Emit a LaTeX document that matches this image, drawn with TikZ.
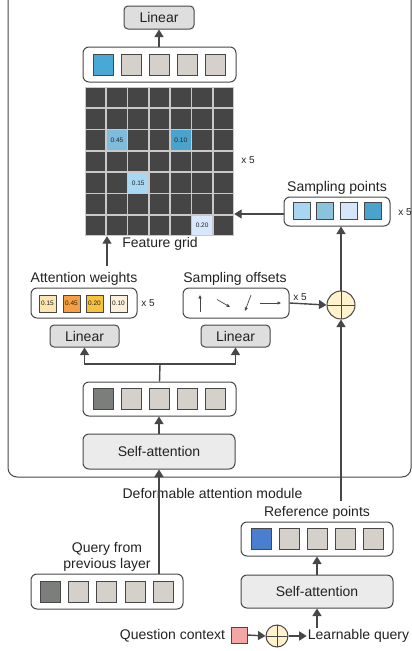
\documentclass[tikz,border=0pt]{standalone}
\usepackage{fontspec}
\setmainfont{Liberation Sans}
\usetikzlibrary{arrows.meta}
\definecolor{ln}{HTML}{474747}
\definecolor{txt}{HTML}{222222}
\definecolor{beige}{HTML}{D6D0CA}
\definecolor{dcell}{HTML}{7B7E7B}
\definecolor{bluea}{HTML}{4AA9D4}
\definecolor{blueb}{HTML}{4A7FCF}
\definecolor{linfill}{HTML}{DEDEDE}
\definecolor{safill}{HTML}{EBEBEB}
\definecolor{gridbg}{HTML}{C9C9C9}
\definecolor{gridcell}{HTML}{454545}
\definecolor{plusfill}{HTML}{FFF2CC}
\definecolor{qred}{HTML}{F2A7A5}
\definecolor{gA}{HTML}{7FBCDC}
\definecolor{gB}{HTML}{4AA3CD}
\definecolor{gC}{HTML}{A9D9F2}
\definecolor{gD}{HTML}{D8E8FB}
\definecolor{sA}{HTML}{A8D6F1}
\definecolor{sB}{HTML}{8AC3DE}
\definecolor{sC}{HTML}{D5E5FA}
\definecolor{sD}{HTML}{4AA3CC}
\definecolor{wA}{HTML}{FCE6B0}
\definecolor{wB}{HTML}{F4A041}
\definecolor{wC}{HTML}{F9C23C}
\definecolor{wD}{HTML}{FDF0DC}
\tikzset{
  lbl/.style={font=\fontsize{14}{16}\selectfont, text=txt, inner sep=1pt, align=center},
  small/.style={font=\fontsize{10}{12}\selectfont, text=txt, inner sep=0pt},
  tiny/.style={font=\fontsize{6.5}{7}\selectfont, text=txt, inner sep=0pt},
  cont/.style={draw=ln, line width=1pt, rounded corners=6pt, fill=white, inner sep=0pt},
  cell/.style={draw=ln, line width=0.8pt, fill=beige, minimum width=20, minimum height=21, inner sep=0pt},
  scell/.style={draw=ln, line width=0.8pt, minimum width=17, minimum height=17, inner sep=0pt},
  gcell/.style={minimum size=19.6, inner sep=0pt},
  linbox/.style={draw=ln, line width=1pt, rounded corners=4pt, fill=linfill, inner sep=0pt, minimum width=69, minimum height=22, font=\fontsize{14}{16}\selectfont, text=txt},
  sabox/.style={draw=ln, line width=1pt, rounded corners=6pt, fill=safill, inner sep=0pt, minimum width=152, minimum height=34, font=\fontsize{14}{16}\selectfont, text=txt},
  arr/.style={draw=ln, line width=1.4pt, -{Triangle[length=7.5pt,width=9pt]}},
  thinarr/.style={draw=ln, line width=0.7pt, -{Triangle[length=3.5pt,width=3pt]}},
  plus/.style={circle, draw=ln, line width=1pt, fill=plusfill, inner sep=0pt,
    path picture={\draw[ln, line width=1pt] (path picture bounding box.north) -- (path picture bounding box.south) (path picture bounding box.west) -- (path picture bounding box.east);}},
}
\begin{document}
\begin{tikzpicture}[x=1pt,y=-1pt]
\useasboundingbox (0,0) rectangle (412,651);
% module frame
\draw[ln, line width=1pt, rounded corners=9pt] (8,-12) rectangle (411,477);

% top linear and container
\node[linbox, minimum width=70, minimum height=23] (Ltop) at (159,17.5) {Linear};
\node[cont, minimum width=153, minimum height=35] (tc) at (159.5,64.5) {};
\foreach \i/\c in {0/bluea,1/beige,2/beige,3/beige,4/beige}
  \node[cell, fill=\c] (tc\i) at (103+28*\i,64.5) {};
\draw[arr] (tc.north -| Ltop.south) -- (Ltop.south);

% feature grid
\node[fill=gridbg, minimum width=149, minimum height=149, inner sep=0pt] (grid) at (159.5,161.5) {};
\foreach \r in {0,...,6}
  \foreach \c in {0,...,6}
    \node[gcell, fill=gridcell] (g\r\c) at (85+10.64+21.29*\c, 87+10.64+21.29*\r) {};
\node[gcell, fill=gA, tiny] at (g21) {0.45};
\node[gcell, fill=gB, tiny] at (g24) {0.10};
\node[gcell, fill=gC, tiny] at (g42) {0.15};
\node[gcell, fill=gD, tiny] at (g65) {0.20};
\node[small] (x5g) at (248,160) {x 5};
\node[lbl] (fg) at (160,244) {Feature grid};

% sampling points
\node[lbl] (spl) at (337,188) {Sampling points};
\node[cont, minimum width=106, minimum height=29] (sp) at (337,211.5) {};
\foreach \i/\x/\c in {0/301.5/sA,1/325/sB,2/349/sC,3/372.5/sD}
  \node[scell, fill=\c] (sp\i) at (\x,211) {};
\node[small] (x5s) at (405,212) {x 5};
\draw[arr] ([yshift=-2.5pt]sp.west) -- ([yshift=-2.5pt]sp.west -| grid.east);

% attention weights
\node[lbl] (awl) at (84,279) {Attention weights};
\node[cont, minimum width=106, minimum height=30] (aw) at (84,303) {};
\foreach \i/\x/\c/\t in {0/47.5/wA/0.15,1/71.5/wB/0.45,2/94.5/wC/0.20,3/118.5/wD/0.10}
  \node[scell, fill=\c, tiny] (aw\i) at (\x,303.5) {\t};
\node[small] (x5a) at (148,303) {x 5};
\coordinate (awtop) at (107,266);
\draw[arr] (awtop) -- (awtop |- grid.south);

% sampling offsets
\node[lbl] (sol) at (235,279) {Sampling offsets};
\node[cont, minimum width=106, minimum height=30] (so) at (236,303) {};
\draw[thinarr] (200,312) -- (200,295);
\draw[thinarr] (217,299.5) -- (230,307);
\draw[thinarr] (251,295) -- (245,311);
\draw[thinarr] (260,303) -- (281,303);
\node[small] (x5o) at (300,297) {x 5};
\node[plus, minimum size=28] (bp) at (341,305) {};
\draw[arr] (so.east) -- (bp.west);
\draw[arr] (bp.north) -- (bp.north |- sp.south);

% linear boxes
\node[linbox] (L1) at (84.5,336) {Linear};
\node[linbox] (L2) at (235.5,336) {Linear};

% middle container
\node[cont, minimum width=153, minimum height=34] (mc) at (159.5,399) {};
\foreach \i/\c in {0/dcell,1/beige,2/beige,3/beige,4/beige}
  \node[cell, fill=\c] (mc\i) at (103+28*\i,399) {};
\coordinate (br) at (160,364);
\draw[ln, line width=1.4pt] (mc.north) -- (br);
\draw[arr] (br) -| (L1.south);
\draw[arr] (br) -| (L2.south);

% self-attention inner
\node[sabox, minimum height=35] (SA1) at (159,451.5) {Self-attention};
\draw[arr] (SA1.north) -- (SA1.north |- mc.south);

\node[lbl] (dam) at (212.5,493) {Deformable attention module};

% query from previous layer
\node[lbl] (ql) at (107,557) {Query from\\previous layer};
\node[cont, minimum width=152, minimum height=35] (qc) at (107,591.5) {};
\foreach \i/\c in {0/dcell,1/beige,2/beige,3/beige,4/beige}
  \node[cell, fill=\c] (qc\i) at (50.5+28.15*\i,592) {};
\draw[arr] (qc.north -| SA1.south) -- (SA1.south);

% reference points
\node[lbl] (rpl) at (317,513) {Reference points};
\node[cont, minimum width=152, minimum height=34] (rc) at (317,539) {};
\foreach \i/\c in {0/blueb,1/beige,2/beige,3/beige,4/beige}
  \node[cell, fill=\c] (rc\i) at (261+28.1*\i,539) {};
\node[sabox, minimum height=33] (SA2) at (317,591.5) {Self-attention};
\draw[arr] (SA2.north) -- (rc.south);
\coordinate (rtop) at (341,501);
\draw[arr] (rtop) -- (bp.south);

% bottom row
\node[lbl] (qcl) at (172.5,636) {Question context};
\node[draw=ln, line width=1pt, fill=qred, minimum size=16, inner sep=0pt] (qsq) at (239,635) {};
\node[plus, minimum size=22] (sc) at (277,636) {};
\node[lbl] (lq) at (358.5,636) {Learnable query};
\draw[arr] (qsq.east) -- (sc.west);
\draw[arr] (sc.east) -- (lq.west);
\draw[arr] (SA2.south |- lq.north) -- (SA2.south);
\end{tikzpicture}
\end{document}
